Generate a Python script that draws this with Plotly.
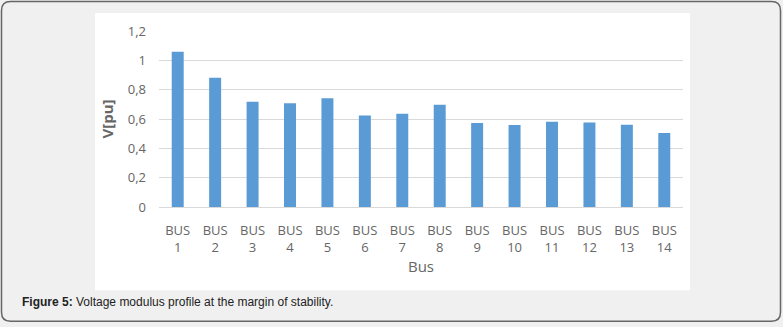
import plotly.graph_objects as go

categories = ["BUS 1", "BUS 2", "BUS 3", "BUS 4", "BUS 5", "BUS 6", "BUS 7",
              "BUS 8", "BUS 9", "BUS 10", "BUS 11", "BUS 12", "BUS 13", "BUS 14"]
voltages = [1.059, 0.882, 0.717, 0.708, 0.742, 0.624, 0.636,
            0.697, 0.572, 0.559, 0.581, 0.576, 0.561, 0.504]
y_ticks = [0, 0.2, 0.4, 0.6, 0.8, 1.0, 1.2]
y_tick_labels = ["0", "0,2", "0,4", "0,6", "0,8", "1", "1,2"]

W, H = 783, 327
L, R, T, B = 159, 683, 31, 207.5
pw, ph = R - L, B - T

def px(x):
    return (x - L) / pw

def py(y):
    return (B - y) / ph

fig = go.Figure()
fig.add_trace(go.Bar(
    x=categories, y=voltages,
    marker=dict(color="#5b9bd5", line=dict(width=0)),
    width=0.32,
))

tick_font = dict(family="Open Sans, Liberation Sans, sans-serif", size=13, color="#666666")

fig.update_layout(
    width=W, height=H,
    margin=dict(l=L, r=W - R, t=T, b=H - B, pad=0),
    paper_bgcolor="#f0f0f0",
    plot_bgcolor="white",
    showlegend=False,
    xaxis=dict(
        tickmode="array",
        tickvals=categories,
        ticktext=[c.replace(" ", "<br>") for c in categories],
        tickfont=tick_font,
        showgrid=False, showline=False, ticks="",
        ticklabelstandoff=14,
        title=dict(text="Bus", font=dict(family="Open Sans, Liberation Sans, sans-serif", size=15, color="#666666"), standoff=6),
    ),
    yaxis=dict(
        range=[0, 1.2],
        tickmode="array",
        tickvals=y_ticks,
        ticktext=y_tick_labels,
        tickfont=tick_font,
        showgrid=True, gridcolor="#d9d9d9", gridwidth=1,
        zeroline=True, zerolinecolor="#d9d9d9", zerolinewidth=1,
        showline=False, ticks="", ticklabelstandoff=12,
        title=dict(text="<b>V[pu]</b>", font=dict(family="Open Sans, Liberation Sans, sans-serif", size=15, color="#666666"), standoff=10),
    ),
)

# white chart area
fig.add_shape(type="rect", xref="paper", yref="paper",
              x0=px(95), x1=px(690), y0=py(291), y1=py(13),
              fillcolor="white", line=dict(width=0), layer="below")

# outer rounded border
x0, x1, y0, y1, r = 1.5, 780.5, 1.5, 322, 9
path = (f"M {px(x0 + r)} {py(y0)} L {px(x1 - r)} {py(y0)} "
        f"Q {px(x1)} {py(y0)} {px(x1)} {py(y0 + r)} "
        f"L {px(x1)} {py(y1 - r)} Q {px(x1)} {py(y1)} {px(x1 - r)} {py(y1)} "
        f"L {px(x0 + r)} {py(y1)} Q {px(x0)} {py(y1)} {px(x0)} {py(y1 - r)} "
        f"L {px(x0)} {py(y0 + r)} Q {px(x0)} {py(y0)} {px(x0 + r)} {py(y0)} Z")
fig.add_shape(type="path", xref="paper", yref="paper", path=path,
              line=dict(color="#666666", width=1.5), layer="below")

fig.add_annotation(
    xref="paper", yref="paper", x=px(20), y=py(303),
    xanchor="left", yanchor="middle", showarrow=False,
    text="<b>Figure 5:</b> Voltage modulus profile at the margin of stability.",
    font=dict(family="Arial, Liberation Sans, sans-serif", size=12, color="#222222"),
)

fig.write_html("out.html")
